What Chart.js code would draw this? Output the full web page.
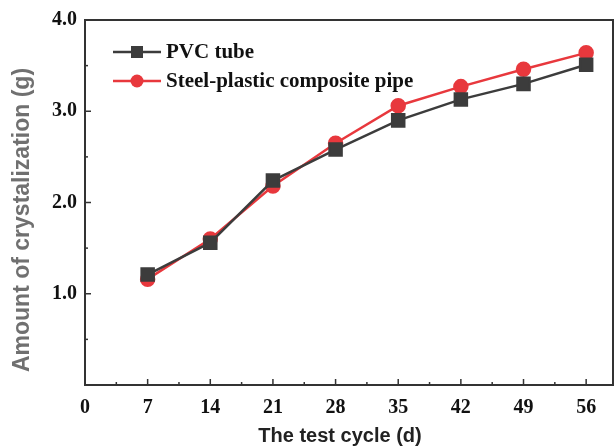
<!DOCTYPE html>
<html>
<head>
<meta charset="utf-8">
<script src="https://cdn.jsdelivr.net/npm/chart.js@4/dist/chart.umd.min.js"></script>
<style>
  html, body { margin: 0; padding: 0; background: #fff; overflow: hidden; }
  canvas { display: block; }
</style>
</head>
<body>
<canvas id="chart" width="615" height="448"></canvas>
<script>
var days = [7, 14, 21, 28, 35, 42, 49, 56];
var pvc = [1.21, 1.56, 2.24, 2.58, 2.90, 3.13, 3.30, 3.51];
var steel = [1.16, 1.60, 2.18, 2.65, 3.06, 3.27, 3.46, 3.64];
var xTickValues = [0, 3.5, 7, 10.5, 14, 17.5, 21, 24.5, 28, 31.5, 35, 38.5, 42, 45.5, 49, 52.5, 56];
var yTickValues = [0, 0.5, 1, 1.5, 2, 2.5, 3, 3.5, 4];
var seriesNames = ["PVC tube", "Steel-plastic composite pipe"];
var xTitle = "The test cycle (d)";
var yTitle = "Amount of crystalization (g)";

function pts(ys){ return days.map(function(d, i){ return { x: d, y: ys[i] }; }); }

var serif = "'Liberation Serif', 'Times New Roman', serif";
var sans = "'Liberation Sans', Arial, sans-serif";

var frame = {
  id: "frame",
  afterDraw: function(chart){
    var ctx = chart.ctx, a = chart.chartArea;
    var xs = chart.scales.x, ys = chart.scales.y;
    ctx.save();
    ctx.strokeStyle = "#333";
    ctx.lineWidth = 2;
    ctx.strokeRect(a.left, a.top, a.right - a.left, a.bottom - a.top);
    // inward ticks
    ctx.lineWidth = 1.5;
    xs.ticks.forEach(function(t){
      if (t.value === 0) return;
      var major = Math.abs(t.value % 7) < 1e-6;
      var px = xs.getPixelForValue(t.value);
      ctx.beginPath();
      ctx.moveTo(px, a.bottom);
      ctx.lineTo(px, a.bottom - (major ? 6 : 3));
      ctx.stroke();
    });
    ys.ticks.forEach(function(t){
      if (t.value === 0 || t.value === 4) return;
      var major = Math.abs(t.value % 1) < 1e-6;
      var py = ys.getPixelForValue(t.value);
      ctx.beginPath();
      ctx.moveTo(a.left, py);
      ctx.lineTo(a.left + (major ? 6 : 3), py);
      ctx.stroke();
    });
    // axis titles
    ctx.fillStyle = "#222";
    ctx.font = "bold 20px " + sans;
    ctx.textAlign = "center";
    ctx.textBaseline = "middle";
    ctx.fillText(xTitle, 340, 436);
    ctx.save();
    ctx.translate(23, 220);
    ctx.rotate(-Math.PI / 2);
    ctx.fillStyle = "#707070";
    ctx.font = "bold 23px " + sans;
    ctx.fillText(yTitle, 0, 0);
    ctx.restore();
    // legend
    var rows = [52, 81];
    chart.data.datasets.forEach(function(ds, i){
      var y = rows[i];
      ctx.strokeStyle = ds.borderColor;
      ctx.lineWidth = 2.5;
      ctx.beginPath();
      ctx.moveTo(113, y);
      ctx.lineTo(161, y);
      ctx.stroke();
      ctx.fillStyle = ds.backgroundColor;
      if (ds.pointStyle === "rect") {
        ctx.fillRect(137 - 6, y - 6, 12, 12);
      } else {
        ctx.beginPath();
        ctx.arc(137, y, 6.5, 0, Math.PI * 2);
        ctx.fill();
      }
      ctx.fillStyle = "#111";
      ctx.font = "bold 21px " + serif;
      ctx.textAlign = "left";
      ctx.fillText(ds.label, 166, y + 1);
    });
    ctx.restore();
  }
};

new Chart(document.getElementById("chart"), {
  type: "line",
  data: {
    datasets: [
      {
        label: seriesNames[0], data: pts(pvc),
        borderColor: "#3c3c3c", backgroundColor: "#3c3c3c",
        borderWidth: 2.5, pointStyle: "rect", pointRadius: 8.5, pointHoverRadius: 8.5
      },
      {
        label: seriesNames[1], data: pts(steel),
        borderColor: "#e8383d", backgroundColor: "#e8383d",
        borderWidth: 2.5, pointStyle: "circle", pointRadius: 6.5, pointHoverRadius: 6.5
      }
    ]
  },
  options: {
    responsive: false,
    animation: false,
    layout: { autoPadding: false, padding: { left: 0, right: 2, top: 20, bottom: 0 } },
    plugins: { legend: { display: false }, tooltip: { enabled: false } },
    scales: {
      x: {
        type: "linear", min: 0, max: 59,
        grid: { display: false, drawTicks: false },
        border: { display: false },
        afterBuildTicks: function(s){ s.ticks = xTickValues.map(function(v){ return { value: v }; }); },
        ticks: {
          padding: 11, autoSkip: false, maxRotation: 0,
          color: "#111", font: { family: serif, size: 20, weight: "bold" },
          callback: function(v){ return (Math.abs(v % 7) < 1e-6) ? String(v) : ""; }
        },
        afterFit: function(s){ s.height = 63; s.paddingLeft = 0; s.paddingRight = 0; }
      },
      y: {
        min: 0, max: 4,
        grid: { display: false, drawTicks: false },
        border: { display: false },
        afterBuildTicks: function(s){ s.ticks = yTickValues.map(function(v){ return { value: v }; }); },
        ticks: {
          padding: 8,
          color: "#111", font: { family: serif, size: 20, weight: "bold" },
          callback: function(v){ return (v >= 1 && Math.abs(v % 1) < 1e-6) ? v.toFixed(1) : ""; }
        },
        afterFit: function(s){ s.width = 85; s.paddingTop = 0; s.paddingBottom = 0; }
      }
    }
  },
  plugins: [frame]
});
</script>
</body>
</html>
